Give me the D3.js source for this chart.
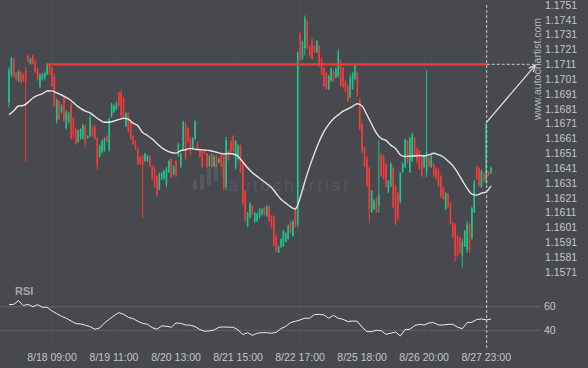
<!DOCTYPE html>
<html>
<head>
<meta charset="utf-8">
<script src="https://cdn.jsdelivr.net/npm/d3@7"></script>
<style>
  html, body { margin: 0; padding: 0; background: #47494e; }
  svg { display: block; }
</style>
</head>
<body>
<svg id="chart" width="588" height="368"></svg>
<script>
// hourly EUR/USD candles, [open, high, low, close]
const ohlc = [
  [1.1685,1.1709,1.1682,1.1707],[1.1704,1.1716,1.1702,1.1715],[1.1714,1.1715,1.1702,1.1703],[1.1705,1.1706,1.1700,1.1701],
  [1.1700,1.1707,1.1699,1.1706],[1.1706,1.1707,1.1698,1.1699],[1.1704,1.1705,1.1699,1.1700],[1.1707,1.1709,1.1645,1.1699],
  [1.1717,1.1717,1.1712,1.1713],[1.1711,1.1715,1.1711,1.1715],[1.1717,1.1717,1.1711,1.1711],[1.1713,1.1714,1.1705,1.1706],
  [1.1708,1.1709,1.1700,1.1701],[1.1696,1.1705,1.1695,1.1704],[1.1701,1.1705,1.1700,1.1704],[1.1702,1.1706,1.1700,1.1705],
  [1.1704,1.1712,1.1704,1.1711],[1.1710,1.1711,1.1704,1.1704],[1.1709,1.1709,1.1696,1.1696],[1.1703,1.1705,1.1682,1.1683],
  [1.1673,1.1688,1.1671,1.1687],[1.1686,1.1687,1.1673,1.1674],[1.1679,1.1684,1.1678,1.1683],[1.1688,1.1689,1.1672,1.1673],
  [1.1668,1.1680,1.1667,1.1679],[1.1672,1.1679,1.1671,1.1678],[1.1684,1.1685,1.1660,1.1661],[1.1675,1.1675,1.1661,1.1663],
  [1.1667,1.1668,1.1657,1.1657],[1.1659,1.1667,1.1658,1.1666],[1.1661,1.1668,1.1660,1.1667],[1.1661,1.1671,1.1660,1.1670],
  [1.1669,1.1670,1.1655,1.1657],[1.1661,1.1663,1.1661,1.1663],[1.1663,1.1677,1.1662,1.1675],[1.1669,1.1670,1.1662,1.1663],
  [1.1669,1.1670,1.1660,1.1661],[1.1661,1.1662,1.1640,1.1643],[1.1649,1.1657,1.1648,1.1656],[1.1652,1.1660,1.1651,1.1659],
  [1.1653,1.1662,1.1652,1.1661],[1.1663,1.1663,1.1659,1.1659],[1.1653,1.1675,1.1652,1.1674],[1.1676,1.1685,1.1675,1.1684],
  [1.1679,1.1684,1.1678,1.1683],[1.1681,1.1686,1.1680,1.1685],[1.1692,1.1692,1.1682,1.1683],[1.1692,1.1694,1.1675,1.1676],
  [1.1688,1.1689,1.1675,1.1676],[1.1669,1.1679,1.1669,1.1678],[1.1678,1.1679,1.1665,1.1666],[1.1673,1.1673,1.1660,1.1661],
  [1.1663,1.1663,1.1657,1.1657],[1.1659,1.1660,1.1653,1.1654],[1.1654,1.1655,1.1643,1.1644],[1.1648,1.1649,1.1643,1.1644],
  [1.1649,1.1650,1.1607,1.1643],[1.1646,1.1651,1.1645,1.1651],[1.1646,1.1650,1.1645,1.1649],[1.1649,1.1650,1.1642,1.1642],
  [1.1642,1.1643,1.1633,1.1634],[1.1641,1.1642,1.1628,1.1628],[1.1636,1.1636,1.1622,1.1623],[1.1627,1.1638,1.1626,1.1637],
  [1.1634,1.1638,1.1633,1.1638],[1.1634,1.1640,1.1633,1.1639],[1.1630,1.1642,1.1628,1.1641],[1.1638,1.1646,1.1638,1.1646],
  [1.1647,1.1648,1.1634,1.1635],[1.1637,1.1643,1.1636,1.1642],[1.1646,1.1646,1.1635,1.1636],[1.1649,1.1658,1.1649,1.1657],
  [1.1642,1.1651,1.1641,1.1651],[1.1654,1.1673,1.1653,1.1672],[1.1671,1.1672,1.1646,1.1648],[1.1668,1.1669,1.1658,1.1659],
  [1.1661,1.1662,1.1650,1.1651],[1.1654,1.1662,1.1653,1.1661],[1.1661,1.1673,1.1660,1.1673],[1.1658,1.1659,1.1653,1.1654],
  [1.1654,1.1655,1.1648,1.1649],[1.1653,1.1653,1.1641,1.1642],[1.1653,1.1653,1.1650,1.1651],[1.1651,1.1651,1.1641,1.1642],
  [1.1642,1.1650,1.1642,1.1649],[1.1651,1.1651,1.1641,1.1642],[1.1642,1.1650,1.1642,1.1649],[1.1649,1.1650,1.1642,1.1642],
  [1.1645,1.1648,1.1644,1.1647],[1.1651,1.1651,1.1642,1.1642],[1.1649,1.1650,1.1626,1.1628],[1.1628,1.1662,1.1626,1.1660],
  [1.1653,1.1653,1.1646,1.1647],[1.1659,1.1660,1.1651,1.1652],[1.1663,1.1663,1.1652,1.1653],[1.1641,1.1660,1.1640,1.1659],
  [1.1647,1.1657,1.1646,1.1656],[1.1656,1.1657,1.1638,1.1638],[1.1646,1.1646,1.1616,1.1617],[1.1626,1.1626,1.1605,1.1606],
  [1.1602,1.1611,1.1601,1.1611],[1.1608,1.1618,1.1607,1.1617],[1.1615,1.1616,1.1609,1.1610],[1.1605,1.1611,1.1604,1.1611],
  [1.1605,1.1611,1.1605,1.1610],[1.1608,1.1614,1.1607,1.1613],[1.1610,1.1614,1.1609,1.1613],[1.1614,1.1615,1.1609,1.1610],
  [1.1609,1.1616,1.1608,1.1615],[1.1615,1.1616,1.1605,1.1605],[1.1609,1.1609,1.1601,1.1601],[1.1609,1.1609,1.1588,1.1589],
  [1.1595,1.1596,1.1584,1.1585],[1.1584,1.1589,1.1584,1.1588],[1.1588,1.1594,1.1587,1.1593],[1.1588,1.1599,1.1588,1.1599],
  [1.1591,1.1598,1.1591,1.1597],[1.1593,1.1603,1.1593,1.1602],[1.1604,1.1605,1.1597,1.1598],[1.1595,1.1606,1.1595,1.1605],
  [1.1614,1.1615,1.1601,1.1601],[1.1603,1.1720,1.1601,1.1719],[1.1731,1.1733,1.1713,1.1714],[1.1715,1.1727,1.1714,1.1726],
  [1.1722,1.1744,1.1717,1.1742],[1.1740,1.1741,1.1721,1.1722],[1.1723,1.1724,1.1716,1.1717],[1.1727,1.1729,1.1714,1.1715],
  [1.1723,1.1724,1.1719,1.1719],[1.1719,1.1727,1.1719,1.1727],[1.1723,1.1724,1.1709,1.1710],[1.1715,1.1715,1.1704,1.1704],
  [1.1709,1.1709,1.1696,1.1696],[1.1705,1.1706,1.1694,1.1694],[1.1694,1.1704,1.1694,1.1703],[1.1700,1.1709,1.1699,1.1708],
  [1.1706,1.1707,1.1699,1.1700],[1.1702,1.1709,1.1702,1.1708],[1.1703,1.1721,1.1702,1.1719],[1.1713,1.1714,1.1696,1.1696],
  [1.1709,1.1709,1.1695,1.1696],[1.1700,1.1700,1.1692,1.1693],[1.1696,1.1697,1.1686,1.1686],[1.1689,1.1704,1.1688,1.1702],
  [1.1694,1.1706,1.1694,1.1705],[1.1701,1.1711,1.1700,1.1710],[1.1705,1.1706,1.1689,1.1690],[1.1688,1.1688,1.1667,1.1667],
  [1.1671,1.1671,1.1651,1.1652],[1.1655,1.1655,1.1642,1.1642],[1.1648,1.1649,1.1628,1.1629],[1.1641,1.1642,1.1604,1.1613],
  [1.1611,1.1626,1.1611,1.1626],[1.1613,1.1620,1.1613,1.1619],[1.1621,1.1622,1.1611,1.1611],[1.1616,1.1660,1.1611,1.1623],
  [1.1650,1.1651,1.1635,1.1636],[1.1649,1.1650,1.1633,1.1634],[1.1644,1.1644,1.1628,1.1628],[1.1625,1.1633,1.1624,1.1632],
  [1.1629,1.1645,1.1628,1.1644],[1.1641,1.1642,1.1614,1.1615],[1.1629,1.1630,1.1603,1.1603],[1.1624,1.1625,1.1606,1.1607],
  [1.1618,1.1638,1.1617,1.1638],[1.1638,1.1645,1.1638,1.1644],[1.1642,1.1661,1.1641,1.1660],[1.1659,1.1660,1.1644,1.1645],
  [1.1638,1.1662,1.1638,1.1661],[1.1646,1.1665,1.1645,1.1664],[1.1661,1.1662,1.1649,1.1649],[1.1654,1.1655,1.1644,1.1645],
  [1.1653,1.1653,1.1640,1.1640],[1.1648,1.1649,1.1635,1.1636],[1.1642,1.1650,1.1641,1.1649],[1.1638,1.1707,1.1635,1.1652],
  [1.1648,1.1649,1.1642,1.1642],[1.1642,1.1650,1.1641,1.1649],[1.1644,1.1644,1.1635,1.1636],[1.1641,1.1642,1.1633,1.1634],
  [1.1640,1.1641,1.1628,1.1629],[1.1636,1.1636,1.1621,1.1622],[1.1628,1.1628,1.1620,1.1620],[1.1613,1.1625,1.1613,1.1624],
  [1.1624,1.1624,1.1614,1.1615],[1.1617,1.1618,1.1603,1.1603],[1.1604,1.1605,1.1594,1.1595],[1.1603,1.1604,1.1578,1.1582],
  [1.1595,1.1596,1.1581,1.1582],[1.1594,1.1595,1.1584,1.1584],[1.1582,1.1593,1.1574,1.1591],[1.1588,1.1599,1.1588,1.1599],
  [1.1586,1.1605,1.1584,1.1603],[1.1603,1.1604,1.1584,1.1586],[1.1593,1.1615,1.1593,1.1614],[1.1611,1.1633,1.1611,1.1632],
  [1.1642,1.1643,1.1633,1.1634],[1.1641,1.1642,1.1628,1.1629],[1.1628,1.1640,1.1628,1.1639],[1.1637,1.1638,1.1631,1.1632],
  [1.1632,1.1672,1.1630,1.1671],[1.1638,1.1639,1.1636,1.1636],[1.1638,1.1642,1.1637,1.1641]
];

// moving average, one value every second bar
const maValues = [
  1.16770,1.16797,1.16829,1.16832,1.16853,1.16883,1.16900,1.16912,1.16930,1.16931,
  1.16917,1.16903,1.16886,1.16866,1.16837,1.16813,1.16794,1.16782,1.16758,1.16735,
  1.16719,1.16719,1.16728,1.16737,1.16746,1.16740,1.16713,1.16695,1.16650,1.16630,
  1.16606,1.16576,1.16547,1.16528,1.16515,1.16511,1.16528,1.16534,1.16543,1.16537,
  1.16534,1.16532,1.16529,1.16521,1.16513,1.16505,1.16509,1.16505,1.16490,1.16451,
  1.16412,1.16379,1.16354,1.16330,1.16305,1.16279,1.16239,1.16200,1.16174,1.16149,
  1.16134,1.16209,1.16319,1.16420,1.16509,1.16590,1.16656,1.16705,1.16743,1.16769,
  1.16794,1.16809,1.16827,1.16844,1.16828,1.16770,1.16706,1.16646,1.16610,1.16597,
  1.16565,1.16543,1.16500,1.16488,1.16491,1.16492,1.16495,1.16492,1.16499,1.16510,
  1.16500,1.16485,1.16458,1.16427,1.16379,1.16326,1.16273,1.16234,1.16228,1.16241,
  1.16250,1.16288
];

// RSI, one value every second bar
const rsiValues = [
  61.7,62.0,65.1,60.9,62.0,60.0,61.7,59.5,59.5,56.4,
  54.1,51.9,50.2,47.9,45.7,45.4,44.3,43.1,40.9,42.0,
  46.2,49.3,52.4,55.0,53.5,51.0,49.9,47.6,45.9,45.1,
  42.3,40.9,43.7,43.4,42.6,46.2,45.9,44.5,44.3,43.1,
  40.6,39.2,39.5,40.3,42.6,42.8,42.6,42.6,40.3,36.4,
  38.0,35.8,37.5,38.0,38.0,37.5,38.3,41.4,43.4,46.5,
  47.6,48.8,50.2,50.2,53.3,53.5,53.0,50.2,52.7,50.2,
  49.3,47.4,47.9,47.6,42.6,38.9,38.9,40.0,39.7,36.6,
  37.5,38.6,35.2,40.6,40.9,44.0,45.1,44.5,46.2,46.5,
  44.5,44.5,45.1,45.1,42.6,41.4,46.5,46.8,49.1,49.6,
  48.8,49.6
];

const timeLabels = ["8/18 09:00", "8/19 11:00", "8/20 13:00", "8/21 15:00",
                    "8/22 17:00", "8/25 18:00", "8/26 20:00", "8/27 23:00"];
const timeLabelBars = [18, 44, 70, 96, 122, 148, 174, 200];
const priceTicks = [1.1571, 1.1581, 1.1591, 1.1601, 1.1611, 1.1621, 1.1631, 1.1641, 1.1651, 1.1661,
                    1.1671, 1.1681, 1.1691, 1.1701, 1.1711, 1.1721, 1.1731, 1.1741, 1.1751];
const rsiTicks = [60, 40];

const resistance = 1.1711;
const resistanceFrom = 16;   // first bar touching the level
const signalBar = 200;       // breakout candle, dashed marker
const targetBar = 220.5;     // where the forecast arrow ends

const W = 588, H = 368;
const bg = "#47494e";
const up = "#1ec48b", down = "#f23c3c";
const font = "'Liberation Sans', Arial, sans-serif";

const svg = d3.select("#chart");
svg.append("rect").attr("width", W).attr("height", H).attr("fill", bg);

const x = d3.scaleLinear().domain([0, ohlc.length - 1]).range([9, 9 + 2.386 * (ohlc.length - 1)]);
const y = d3.scaleLinear().domain([1.1571, 1.1751]).range([271.9, 5]);
const yRsi = d3.scaleLinear().domain([40, 60]).range([330.3, 306.7]);

// faint vertical grid at the time labels
svg.append("g").selectAll("line")
  .data(timeLabelBars)
  .join("line")
    .attr("x1", d => x(d)).attr("x2", d => x(d))
    .attr("y1", 0).attr("y2", 345)
    .attr("stroke", "#4c4f54").attr("stroke-width", 1);

// watermark
const wm = svg.append("g").attr("fill", "#55585d");
wm.selectAll("rect")
  .data([[193, 180, 190], [200, 174, 190], [207, 168, 186], [214, 164, 182], [221, 162, 176]])
  .join("rect")
    .attr("x", d => d[0]).attr("y", d => d[1])
    .attr("width", 4).attr("height", d => d[2] - d[1])
    .attr("rx", 2);
wm.append("text")
  .attr("x", 228).attr("y", 191)
  .attr("font-family", font).attr("font-size", 17)
  .attr("textLength", 120).attr("lengthAdjust", "spacing")
  .text("autochartist");

// RSI guide lines
svg.append("g").selectAll("line")
  .data(rsiTicks)
  .join("line")
    .attr("x1", 0).attr("x2", 541)
    .attr("y1", d => yRsi(d)).attr("y2", d => yRsi(d))
    .attr("stroke", "#5f6266").attr("stroke-width", 1);

// candles
const candle = svg.append("g").selectAll("g")
  .data(ohlc)
  .join("g")
    .attr("fill", d => d[3] >= d[0] ? up : down)
    .attr("stroke", d => d[3] >= d[0] ? up : down);

candle.append("line")
  .attr("x1", (d, i) => x(i)).attr("x2", (d, i) => x(i))
  .attr("y1", d => y(d[1])).attr("y2", d => y(d[2]))
  .attr("stroke-width", 1);

candle.append("rect")
  .attr("stroke", "none")
  .attr("x", (d, i) => x(i) - 0.8)
  .attr("width", 1.6)
  .attr("y", d => y(Math.max(d[0], d[3])))
  .attr("height", d => Math.max(1, Math.abs(y(d[0]) - y(d[3]))));

// moving average
const maLine = d3.line()
  .x((d, k) => x(k * 2))
  .y(d => y(d))
  .curve(d3.curveMonotoneX);
svg.append("path")
  .datum(maValues)
  .attr("d", maLine)
  .attr("fill", "none")
  .attr("stroke", "#e4e4e4")
  .attr("stroke-width", 1.4);

// resistance level
svg.append("line")
  .attr("x1", x(resistanceFrom) - 0.5).attr("x2", x(signalBar))
  .attr("y1", y(resistance)).attr("y2", y(resistance))
  .attr("stroke", "#ee3b3b").attr("stroke-width", 2.2);

// marker lines
svg.append("line")
  .attr("x1", x(signalBar) + 0.5).attr("x2", x(signalBar) + 0.5)
  .attr("y1", 5).attr("y2", 350)
  .attr("stroke", "#c9cacc").attr("stroke-width", 1)
  .attr("stroke-dasharray", "3,2");
svg.append("line")
  .attr("x1", x(signalBar) + 0.5).attr("x2", x(targetBar) + 4)
  .attr("y1", y(resistance)).attr("y2", y(resistance))
  .attr("stroke", "#c9cacc").attr("stroke-width", 1)
  .attr("stroke-dasharray", "3,2");

// forecast arrow
const ax0 = x(signalBar) + 0.5, ay0 = y(ohlc[signalBar][1]);
const ax1 = x(targetBar), ay1 = y(resistance) + 1;
svg.append("line")
  .attr("x1", ax0).attr("y1", ay0).attr("x2", ax1).attr("y2", ay1)
  .attr("stroke", "#e6e6e6").attr("stroke-width", 1.2);
const ang = Math.atan2(ay1 - ay0, ax1 - ax0);
const head = [ang + Math.PI - 0.45, ang + Math.PI + 0.45].map(a => [ax1 + 7 * Math.cos(a), ay1 + 7 * Math.sin(a)]);
svg.append("path")
  .attr("d", `M${head[0][0]},${head[0][1]}L${ax1},${ay1}L${head[1][0]},${head[1][1]}`)
  .attr("fill", "none")
  .attr("stroke", "#e6e6e6").attr("stroke-width", 1.2);

// RSI line
svg.append("path")
  .datum(rsiValues)
  .attr("d", d3.line().x((d, k) => x(k * 2)).y(d => yRsi(d)))
  .attr("fill", "none")
  .attr("stroke", "#ececec")
  .attr("stroke-width", 1);

// price labels
svg.append("g")
    .attr("font-family", font).attr("font-size", 10.5).attr("fill", "#c3c5c7")
  .selectAll("text")
  .data(priceTicks)
  .join("text")
    .attr("x", 545).attr("y", d => y(d)).attr("dy", "0.36em")
    .text(d => d.toFixed(4));

svg.append("g")
    .attr("font-family", font).attr("font-size", 10.5).attr("fill", "#c3c5c7")
  .selectAll("text")
  .data(rsiTicks)
  .join("text")
    .attr("x", 544).attr("y", d => yRsi(d)).attr("dy", "0.36em")
    .text(d => d);

// time labels
svg.append("g")
    .attr("font-family", font).attr("font-size", 10.5).attr("fill", "#c3c5c7")
    .attr("text-anchor", "middle")
  .selectAll("text")
  .data(timeLabels)
  .join("text")
    .attr("x", (d, i) => x(timeLabelBars[i]))
    .attr("y", 360.5)
    .text(d => d);

svg.append("text")
  .attr("x", 15).attr("y", 295)
  .attr("font-family", font).attr("font-size", 11).attr("font-weight", "bold")
  .attr("fill", "#a6a8ab")
  .text("RSI");

svg.append("text")
  .attr("transform", "translate(540.5,69) rotate(-90)")
  .attr("text-anchor", "middle")
  .attr("font-family", font).attr("font-size", 10.5)
  .attr("fill", "#b4b6b8")
  .text("www.autochartist.com");
</script>
</body>
</html>
